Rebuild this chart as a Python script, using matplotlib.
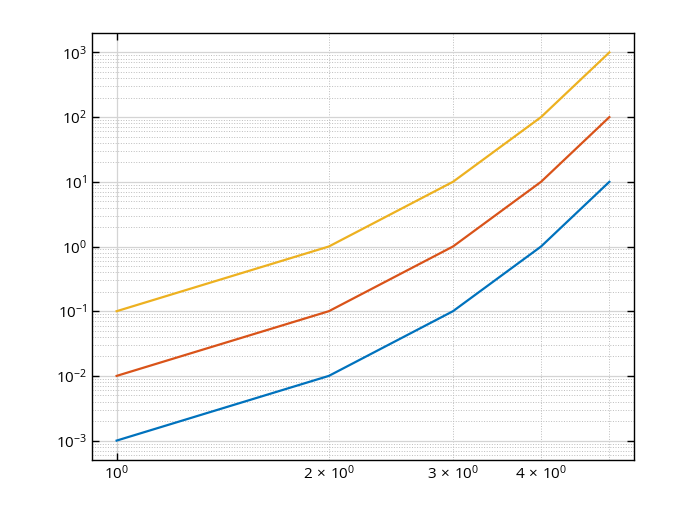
import matplotlib.pyplot as plt
from matplotlib.ticker import FuncFormatter, NullFormatter

x = [1, 2, 3, 4, 5]
blue = [1e-3, 1e-2, 1e-1, 1e0, 1e1]
red = [1e-2, 1e-1, 1e0, 1e1, 1e2]
yellow = [1e-1, 1e0, 1e1, 1e2, 1e3]
x_minor_labels = {2: r'$2\,\times\,10^{0}$', 3: r'$3\,\times\,10^{0}$', 4: r'$4\,\times\,10^{0}$'}

plt.rcParams['font.family'] = ['Open Sans', 'DejaVu Sans']
plt.rcParams['mathtext.fontset'] = 'custom'
plt.rcParams['mathtext.rm'] = 'Open Sans'
plt.rcParams['mathtext.it'] = 'Open Sans:italic'

fig = plt.figure(figsize=(7, 5.18), dpi=100)
ax = fig.add_axes([92 / 700, 1 - 460 / 518, 542 / 700, 427 / 518])

ax.plot(x, blue, color='#0072BD', lw=1.6)
ax.plot(x, red, color='#D95319', lw=1.6)
ax.plot(x, yellow, color='#EDB120', lw=1.6)

ax.set_xscale('log')
ax.set_yscale('log')

ax.xaxis.set_minor_formatter(FuncFormatter(lambda v, p: x_minor_labels.get(int(round(v)), '') if abs(v - round(v)) < 1e-6 else ''))
ax.yaxis.set_minor_formatter(NullFormatter())

ax.grid(True, which='major', color='#d4d4d4', lw=0.9, ls='-')
ax.grid(True, which='minor', color='#bdbdbd', lw=0.7, ls=':')
ax.set_axisbelow(True)

ax.tick_params(which='major', direction='in', length=5, width=1,
               top=True, right=True, labelsize=11)
ax.tick_params(which='minor', direction='in', length=0, labelsize=11)
for s in ax.spines.values():
    s.set_linewidth(1)

fig.savefig('out.png')
